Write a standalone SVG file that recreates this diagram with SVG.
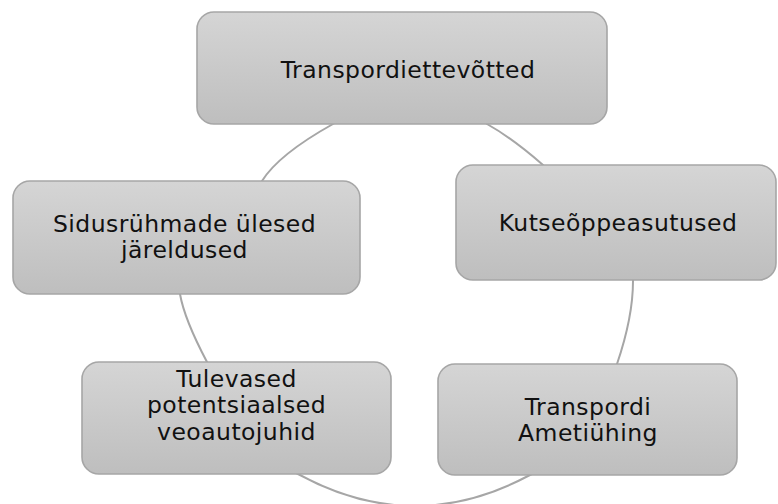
<svg xmlns="http://www.w3.org/2000/svg" width="778" height="504" viewBox="0 0 778 504">
  <defs>
    <linearGradient id="boxFill" x1="0" y1="0" x2="0" y2="1">
      <stop offset="0" stop-color="#d5d5d5"/>
      <stop offset="1" stop-color="#bebebe"/>
    </linearGradient>
  </defs>
  <style>
    .box { fill: url(#boxFill); stroke: #a6a6a6; stroke-width: 1.6; }
    .link { fill: none; stroke: #a6a6a6; stroke-width: 2; }
    .label { font-family: "DejaVu Sans", Verdana, sans-serif; font-size: 23.5px; letter-spacing: 0.45px; fill: #111; text-anchor: middle; }
  </style>

  <rect width="778" height="504" fill="#ffffff"/>

  <!-- arcs joining neighbouring blocks; the blocks are drawn over their ends -->
  <g id="connectors">
    <path class="link" d="M 340,120 L 333,124 Q 278.6,154.4 262,181 L 259,186"/>
    <path class="link" d="M 480,119 L 487,124 Q 512.4,138.2 543,165 L 548,170"/>
    <path class="link" d="M 633,275 L 633,281 Q 633,317 617,364 L 614,370"/>
    <path class="link" d="M 534,473 L 528,476 Q 413,537 298,474 L 292,471"/>
    <path class="link" d="M 179,288 L 180,294 Q 184.3,319.1 207,362 L 210,368"/>
  </g>

  <g id="node-transpordiettevotted">
    <rect class="box" x="197" y="12" width="410" height="112" rx="17"/>
    <text class="label" x="408" y="77.5">Transpordiettevõtted</text>
  </g>

  <g id="node-kutseoppeasutused">
    <rect class="box" x="456" y="165" width="320" height="115" rx="17"/>
    <text class="label" x="618" y="231">Kutseõppeasutused</text>
  </g>

  <g id="node-transpordi-ametiuhing">
    <rect class="box" x="438" y="364" width="299" height="111" rx="17"/>
    <text class="label" x="588" y="415">Transpordi</text>
    <text class="label" x="588" y="441">Ametiühing</text>
  </g>

  <g id="node-tulevased-veoautojuhid">
    <rect class="box" x="82" y="362" width="309" height="112" rx="17"/>
    <text class="label" x="236.5" y="387">Tulevased</text>
    <text class="label" x="236.5" y="413">potentsiaalsed</text>
    <text class="label" x="236.5" y="439.5">veoautojuhid</text>
  </g>

  <g id="node-sidusruhmade-jareldused">
    <rect class="box" x="13" y="181" width="347" height="113" rx="17"/>
    <text class="label" x="184.5" y="232">Sidusrühmade ülesed</text>
    <text class="label" x="184.5" y="258">järeldused</text>
  </g>
</svg>
